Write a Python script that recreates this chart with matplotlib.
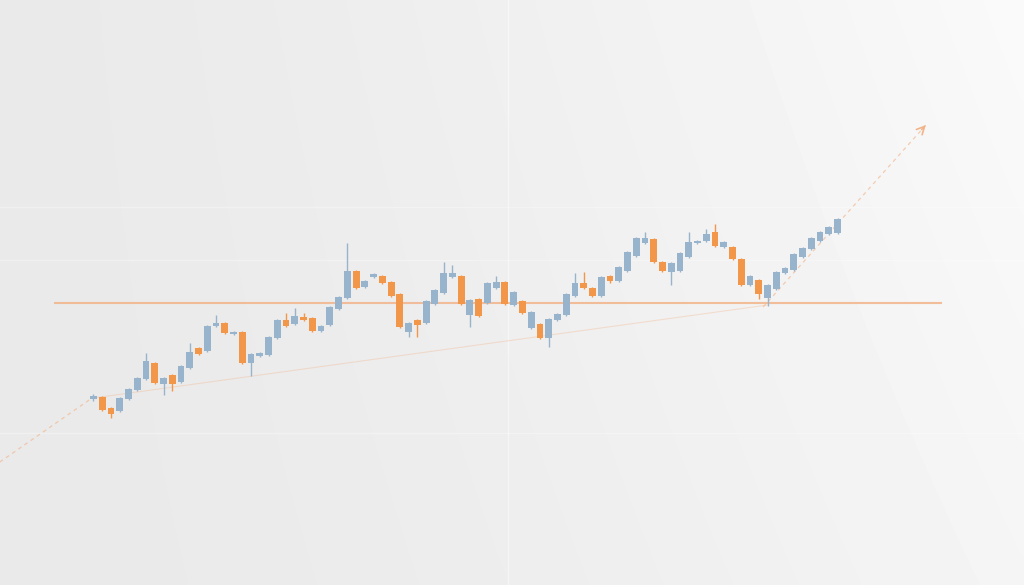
import matplotlib
matplotlib.use("Agg")
import matplotlib.pyplot as plt
import numpy as np

# candle data (one entry per session)
opens = [201, 203, 192, 189, 201, 210, 221, 237, 216, 225, 218, 232, 252, 249, 274, 277, 266, 268, 237, 244,
         245, 262, 280, 276, 283, 282, 269, 275, 291, 302, 329, 313, 323, 324, 318, 306, 268, 280, 277, 296,
         307, 323, 324, 285, 301, 297, 312, 318, 295, 299, 272, 276, 262, 280, 285, 304, 317, 312, 304, 324,
         319, 329, 344, 357, 361, 338, 328, 329, 343, 357, 359, 368, 353, 353, 341, 315, 320, 302, 311, 327,
         330, 343, 351, 359, 366, 367]
closes = [204, 190, 186, 202, 211, 222, 239, 217, 222, 216, 234, 248, 246, 274, 277, 267, 268, 237, 246, 247,
          263, 280, 274, 284, 280, 269, 274, 293, 303, 329, 312, 319, 326, 317, 304, 273, 277, 275, 299, 310,
          327, 327, 296, 300, 284, 317, 318, 296, 308, 287, 288, 262, 281, 286, 306, 317, 312, 304, 323, 319,
          333, 348, 362, 362, 338, 329, 337, 347, 358, 359, 366, 354, 358, 341, 315, 324, 306, 315, 328, 332,
          346, 352, 362, 368, 373, 381]
highs = [206, 204, 193, 203, 212, 223, 247, 238, 223, 226, 235, 257, 253, 275, 285, 278, 269, 269, 247, 248,
         264, 281, 287, 292, 287, 283, 275, 294, 304, 357, 330, 320, 327, 325, 319, 307, 278, 281, 300, 311,
         338, 335, 325, 301, 302, 318, 324, 319, 309, 300, 289, 277, 282, 287, 307, 327, 328, 313, 324, 325,
         334, 349, 363, 368, 362, 339, 338, 348, 368, 360, 371, 376, 359, 354, 342, 325, 321, 316, 329, 333,
         347, 353, 363, 369, 374, 382]
lows = [199, 189, 182, 188, 200, 209, 220, 216, 205, 209, 217, 231, 245, 248, 273, 266, 265, 236, 224, 243,
        244, 261, 273, 275, 279, 268, 268, 274, 290, 301, 311, 312, 322, 316, 303, 272, 263, 263, 276, 295,
        306, 322, 295, 273, 283, 296, 311, 295, 294, 286, 271, 261, 253, 279, 284, 303, 311, 303, 303, 317,
        318, 328, 343, 356, 337, 328, 315, 328, 342, 356, 358, 353, 352, 340, 314, 314, 301, 294, 310, 326,
        329, 342, 350, 358, 365, 366]

# reference lines
resistance_level = 297
resistance_span = [-4.4, 96.8]
trend_x = [0, 77]
trend_y = [202, 295]
lead_in_x = [-10.7, 0]
lead_in_y = [138, 203]
breakout_x = [76.5, 95.3]
breakout_y = [293, 477]

up_color = "#98b3cc"
down_color = "#f2964a"
line_color = "#f2b48a"

fig = plt.figure(figsize=(10.24, 5.85), dpi=100)
ax = fig.add_axes([0, 0, 1, 1])
x_min, x_max = -10.68, 106.3
y_min, y_max = 15, 600

# soft light background, brighter towards the top right
gx = np.linspace(0, 1, 256)
gy = np.linspace(0, 1, 160)
X, Y = np.meshgrid(gx, gy)
bg = 0.915 + 0.045 * X ** 1.6 + 0.02 * Y * X
ax.imshow(bg, cmap="gray", vmin=0, vmax=1, extent=[x_min, x_max, y_min, y_max],
          origin="lower", aspect="auto", zorder=0, interpolation="bicubic")

# faint grid
for gp in [393, 340, 167]:
    ax.axhline(gp, color="white", lw=1.0, alpha=0.3, zorder=1)
ax.axvline(47.3, color="white", lw=1.0, alpha=0.45, zorder=1)

# support / trend lines
ax.plot(resistance_span, [resistance_level, resistance_level], color=line_color, lw=1.5, alpha=0.85, zorder=2)
ax.plot(trend_x, trend_y, color=line_color, lw=0.8, alpha=0.35, zorder=2)
ax.plot(lead_in_x, lead_in_y, color=line_color, lw=0.9, ls=(0, (3, 3)), alpha=0.65, zorder=2)
ax.plot(breakout_x, breakout_y, color=line_color, lw=0.9, ls=(0, (3, 3)), alpha=0.65, zorder=2)
ax.annotate("", xy=(breakout_x[1], breakout_y[1]),
            xytext=(breakout_x[1] - 0.9, breakout_y[1] - 8.5),
            arrowprops=dict(arrowstyle="->", color=line_color, lw=1.2, mutation_scale=14), zorder=3)

# candles
idx = np.arange(len(opens))
o = np.array(opens)
c = np.array(closes)
h = np.array(highs)
l = np.array(lows)
up = c >= o
colors = np.where(up, up_color, down_color)
ax.vlines(idx, l, h, colors=colors, lw=1.0, zorder=3)
ax.bar(idx, np.maximum(np.abs(c - o), 1.5), bottom=np.minimum(o, c), width=0.78,
       color=colors, edgecolor="none", zorder=4)

ax.set_xlim(x_min, x_max)
ax.set_ylim(y_min, y_max)
ax.axis("off")

plt.savefig("out.png", dpi=100)
plt.close(fig)
